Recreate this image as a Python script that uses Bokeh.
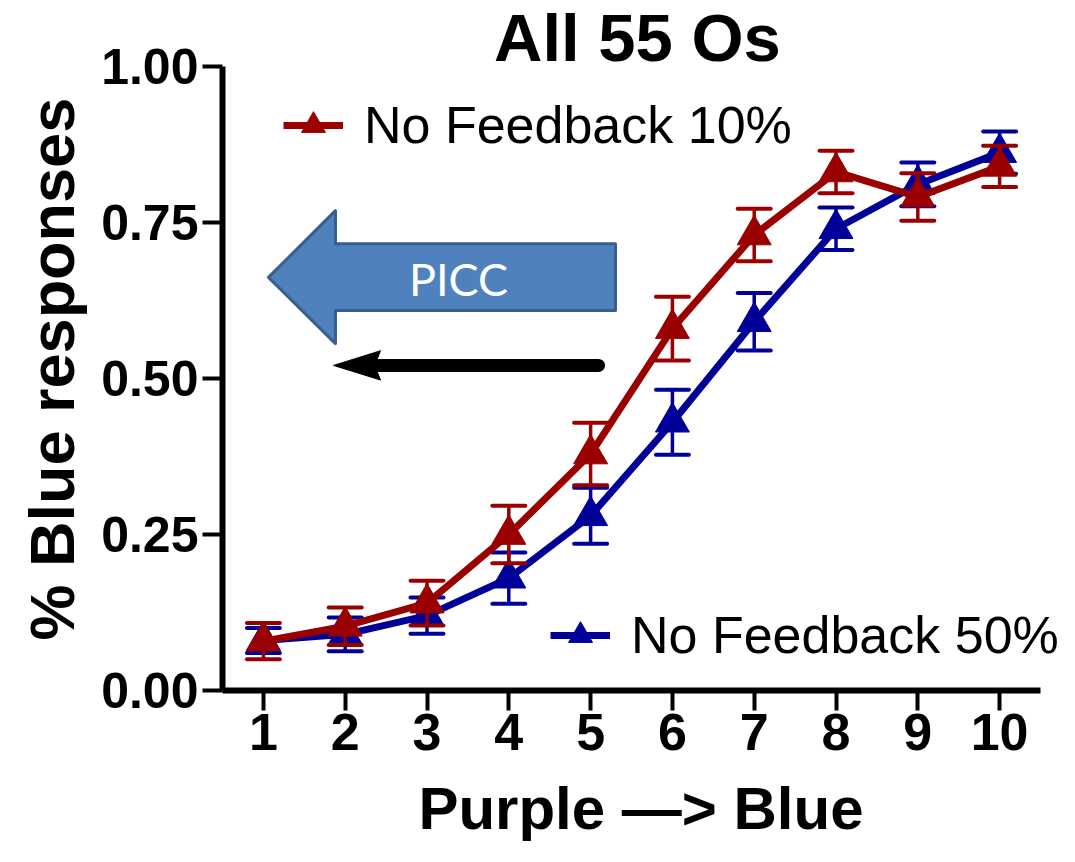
from bokeh.plotting import figure
from bokeh.models import (Range1d, FixedTicker, NumeralTickFormatter, Legend,
                          LegendItem, Label, ColumnDataSource, Title)
from bokeh.embed import file_html
from bokeh.resources import INLINE

# ---------------- data ----------------
stimulus = [1, 2, 3, 4, 5, 6, 7, 8, 9, 10]
x_tick_labels = ["1", "2", "3", "4", "5", "6", "7", "8", "9", "10"]
y_ticks = [0.0, 0.25, 0.5, 0.75, 1.0]

fb10_mean = [0.079, 0.103, 0.140, 0.250, 0.379, 0.580, 0.730, 0.831, 0.791, 0.840]
fb10_sem = [0.029, 0.030, 0.036, 0.046, 0.050, 0.051, 0.042, 0.034, 0.038, 0.033]
fb50_mean = [0.080, 0.090, 0.120, 0.180, 0.280, 0.430, 0.591, 0.740, 0.811, 0.862]
fb50_sem = [0.020, 0.027, 0.029, 0.041, 0.045, 0.052, 0.046, 0.034, 0.035, 0.034]

series_names = ["No Feedback 10%", "No Feedback 50%"]
title_text = "All 55 Os"
x_title = "Purple \u2014> Blue"
y_title = "% Blue responses"

RED = "#9A0000"
BLUE = "#000099"
FONT = "Liberation Sans"

# frame spans to the right/top edge so that annotations are not clipped;
# axis bounds keep the axis lines at the data extent
p = figure(width=1059, height=846, output_backend="svg", toolbar_location=None,
           x_range=Range1d(0.5, 10.732), y_range=Range1d(0, 1.1058))
p.title.visible = False
p.min_border_left = 222
p.min_border_right = 0
p.min_border_top = 0
p.min_border_bottom = 156
p.outline_line_color = None
p.xgrid.visible = False
p.ygrid.visible = False
p.background_fill_color = "white"
p.border_fill_color = "white"

for ax in (p.xaxis[0], p.yaxis[0]):
    ax.axis_line_width = 6
    ax.axis_line_color = "black"
    ax.major_tick_line_width = 4
    ax.major_tick_line_color = "black"
    ax.major_tick_out = 20
    ax.major_tick_in = 0
    ax.minor_tick_line_color = None
    ax.major_label_text_font = FONT
    ax.major_label_text_font_style = "bold"
    ax.major_label_text_color = "black"
    ax.axis_label_text_font = FONT
    ax.axis_label_text_font_style = "bold"
    ax.axis_label_text_color = "black"

xa = p.xaxis[0]
xa.bounds = (0.5, 10.5)
xa.ticker = FixedTicker(ticks=stimulus)
xa.major_label_overrides = {s: l for s, l in zip(stimulus, x_tick_labels)}
xa.major_label_text_font_size = "52px"
xa.major_label_standoff = 3
xa.axis_label = x_title
xa.axis_label_text_font_size = "60px"
xa.axis_label_standoff = 22

ya = p.yaxis[0]
ya.bounds = (0, 1)
ya.ticker = FixedTicker(ticks=y_ticks)
ya.formatter = NumeralTickFormatter(format="0.00")
ya.major_label_text_font_size = "50px"
ya.major_label_standoff = 4
ya.axis_label = None

# y-axis title as a side title so it can be placed along the 0..1 span
p.add_layout(Title(text=y_title, align="left", offset=50, standoff=24,
                   text_font=FONT, text_font_style="bold",
                   text_font_size="63px", text_color="black"), "left")

# ---------------- annotations: arrows ----------------
picc_xs = [1.062, 1.881, 1.881, 5.304, 5.304, 1.881, 1.881]
picc_ys = [0.662, 0.769, 0.716, 0.716, 0.609, 0.609, 0.556]
p.patch(picc_xs, picc_ys, fill_color="#4F81BD", line_color="#3A5F8E",
        line_width=3, line_join="round")
p.add_layout(Label(x=3.385, y=0.659, text="PICC", text_align="center",
                   text_baseline="middle", text_color="white",
                   text_font="Lato", text_font_size="45px"))

shaft_y = 0.521
p.segment(x0=[5.097], y0=[shaft_y], x1=[2.3], y1=[shaft_y], line_color="black",
          line_width=13, line_cap="round")
p.patch([1.857, 2.432, 2.36, 2.432], [shaft_y, shaft_y + 0.0235, shaft_y, shaft_y - 0.0235],
        fill_color="black", line_color="black", line_width=1)

# ---------------- series ----------------
def draw_series(mean, sem, color):
    src = ColumnDataSource(dict(
        x=stimulus, y=mean,
        lo=[m - s for m, s in zip(mean, sem)],
        hi=[m + s for m, s in zip(mean, sem)]))
    p.segment(x0="x", y0="lo", x1="x", y1="hi", source=src, line_color=color,
              line_width=3.5)
    p.scatter(x="x", y="lo", source=src, marker="dash", size=33, line_color=color,
              line_width=4, line_cap="round")
    p.scatter(x="x", y="hi", source=src, marker="dash", size=33, line_color=color,
              line_width=4, line_cap="round")
    ln = p.line(x="x", y="y", source=src, line_color=color, line_width=7,
                line_join="round")
    mk = p.scatter(x="x", y="y", source=src, marker="triangle", size=34,
                   fill_color=color, line_color=color, line_width=1)
    return ln, mk

b_ln, b_mk = draw_series(fb50_mean, fb50_sem, BLUE)
r_ln, r_mk = draw_series(fb10_mean, fb10_sem, RED)

def make_legend(label, renderers, loc):
    lg = Legend(items=[LegendItem(label=label, renderers=renderers)], location=loc,
                glyph_width=60, glyph_height=62, label_standoff=21,
                label_text_font=FONT, label_text_font_size="52px",
                label_text_color="black", padding=0, margin=0, spacing=0,
                border_line_alpha=0, background_fill_alpha=0)
    p.add_layout(lg)

make_legend(series_names[0], [r_ln, r_mk], (61, 534))
make_legend(series_names[1], [b_ln, b_mk], (328, 24))

p.add_layout(Label(x=5.573, y=1.047, text=title_text, text_align="center",
                   text_baseline="alphabetic", text_font=FONT,
                   text_font_style="bold", text_font_size="67px",
                   text_color="black"))

open("out.html", "w").write(file_html(p, INLINE))
